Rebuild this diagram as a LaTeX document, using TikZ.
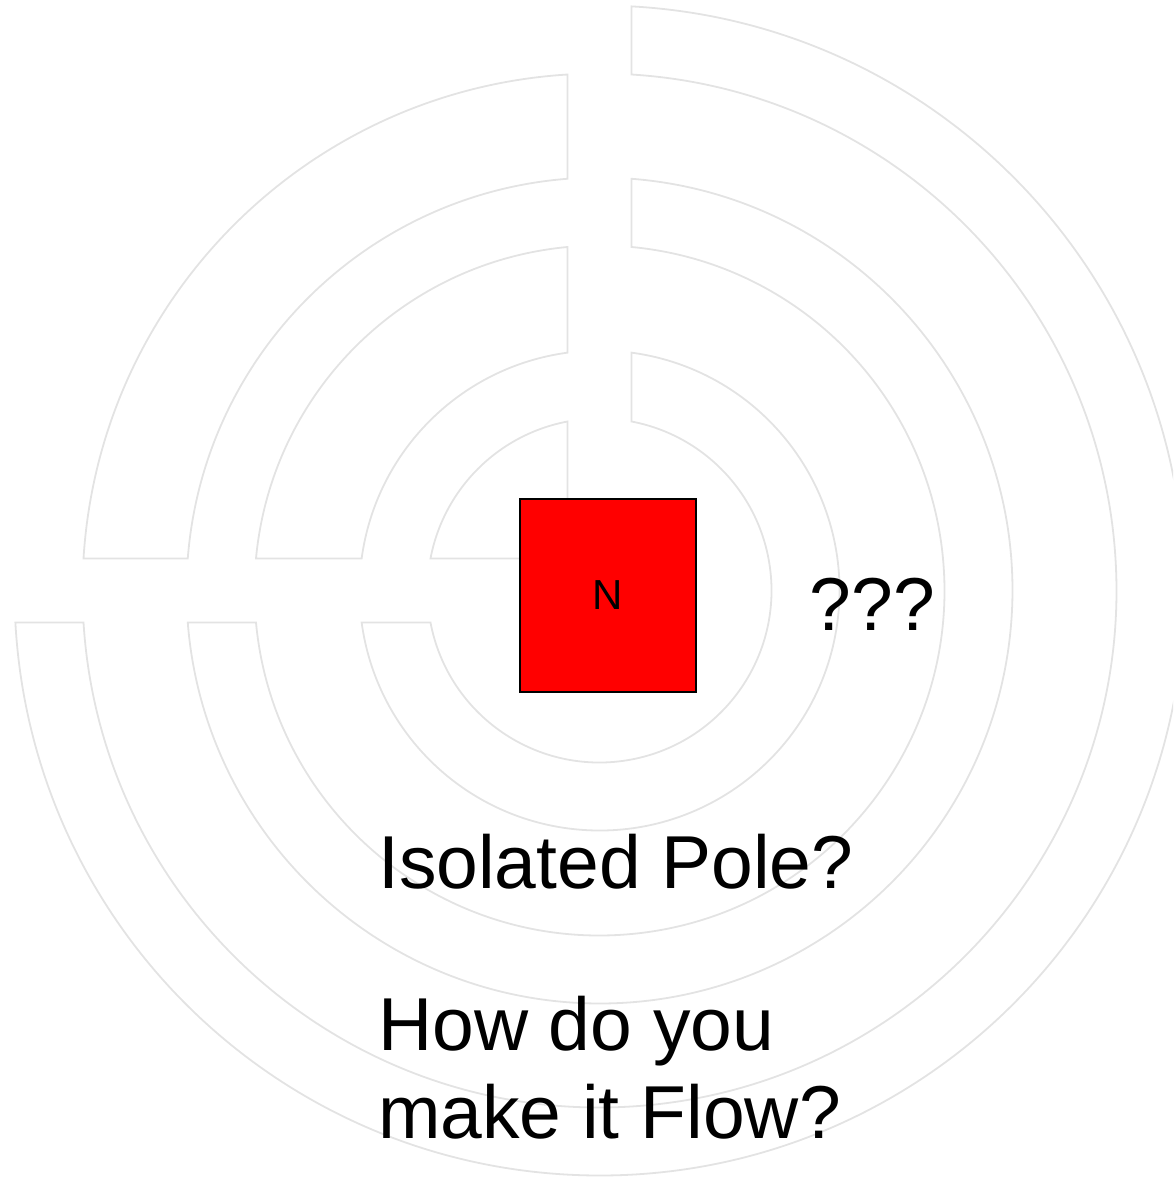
\documentclass[tikz,border=0pt]{standalone}
\usepackage{fontspec}
\setmainfont{Liberation Sans}
\usepackage{tikz}
\usetikzlibrary{positioning}
\definecolor{Ring}{HTML}{E3E3E3}
\definecolor{Pole}{HTML}{FF0000}

\begin{document}
\begin{tikzpicture}[x=1pt,y=1pt,
    ring/.style={draw=Ring,line width=1.8pt,line join=miter},
    pole/.style={draw=black,line width=1.6pt,fill=Pole,minimum width=176pt,minimum height=193pt,inner sep=0pt,font=\fontsize{42}{50}\selectfont},
    big/.style={inner sep=0pt,anchor=base west,align=left,font=\fontsize{75}{88}\selectfont}]
    \useasboundingbox (-599.5,-587.5) rectangle (573.5,590.5);
    \clip (-599.5,-587.5) rectangle (573.5,590.5);
    % three-quarter bands, open at the top and on the left
    \foreach \a/\b in {172/240,345/413,517/585}{
      \pgfmathsetmacro\ta{acos(32/\a)}\pgfmathsetmacro\tb{acos(32/\b)}
      \pgfmathsetmacro\ea{asin(32/\a)-180}\pgfmathsetmacro\eb{asin(32/\b)-180}
      \draw[ring] (\ta:\a) -- (\tb:\b) arc[start angle=\tb,end angle=\eb,radius=\b]
        -- (\ea:\a) arc[start angle=\ea,end angle=\ta,radius=\a] -- cycle;
    }
    % quarter bands in the upper left
    \foreach \a/\b in {240/345,413/517}{
      \pgfmathsetmacro\ta{90+asin(32/\a)}\pgfmathsetmacro\tb{90+asin(32/\b)}
      \pgfmathsetmacro\ea{180-asin(32/\a)}\pgfmathsetmacro\eb{180-asin(32/\b)}
      \draw[ring] (\ta:\a) -- (\tb:\b) arc[start angle=\tb,end angle=\eb,radius=\b]
        -- (\ea:\a) arc[start angle=\ea,end angle=\ta,radius=\a] -- cycle;
    }
    \pgfmathsetmacro\tb{90+asin(32/172)}\pgfmathsetmacro\eb{180-asin(32/172)}
    \draw[ring] (-32,32) -- (\tb:172) arc[start angle=\tb,end angle=\eb,radius=172] -- cycle;
    % magnet and questions
    \node[pole] (north) at (8.5,-5) {N};
    \node[big] (what) at (210,-39.5) {???};
    \node[big] (iso) at (-221.5,-297.5) {Isolated Pole?};
    \node[big] (flow) at (-221.5,-547.5) {How do you\\make it Flow?};
  \end{tikzpicture}
\end{document}
